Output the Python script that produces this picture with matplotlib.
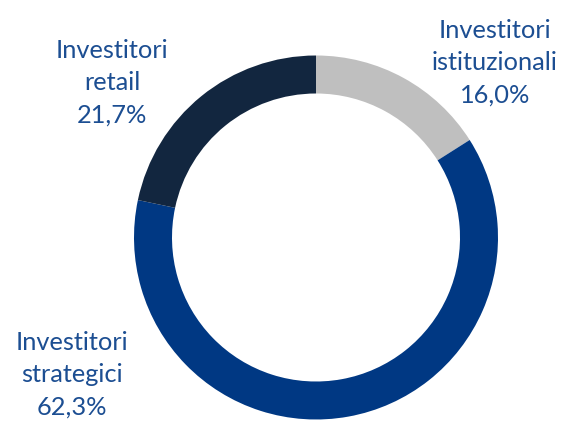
import matplotlib
matplotlib.use("Agg")
import matplotlib.pyplot as plt

# quote degli azionisti (in senso orario dall'alto)
labels = ["Investitori\nistituzionali\n16,0%", "Investitori\nstrategici\n62,3%", "Investitori\nretail\n21,7%"]
values = [16.0, 62.3, 21.7]
colors = ["#bfbfbf", "#003883", "#12263f"]
text_col = "#1c4e92"

W, H = 570, 421
fig = plt.figure(figsize=(W / 100, H / 100), dpi=100)
ax = fig.add_axes([0, 0, 1, 1])

R = 182
ax.pie(values, colors=colors, startangle=90, counterclock=False,
       center=(316, H - 237.5), radius=R, frame=True,
       wedgeprops=dict(width=38, edgecolor="none"))
ax.set_xlim(0, W)
ax.set_ylim(0, H)
ax.set_aspect("equal")
ax.axis("off")

# posizioni delle etichette (pixel)
pos = [(495, 63), (72, 375), (112, 83)]
for lab, (x, y) in zip(labels, pos):
    ax.text(x, H - y, lab, ha="center", va="center", fontsize=18.3,
            family="Lato", color=text_col, linespacing=1.5)

fig.savefig("out.png", dpi=100)
